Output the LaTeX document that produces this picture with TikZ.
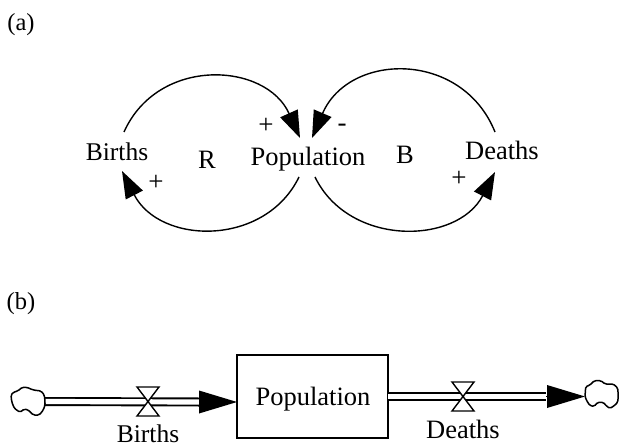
\documentclass[tikz,border=0pt]{standalone}
\usepackage{fontspec}
\setmainfont{Liberation Serif}
\usetikzlibrary{arrows.meta}
\tikzset{
  lab/.style={inner sep=0pt,anchor=base,font=\fontsize{26.5}{28}\selectfont},
  small/.style={inner sep=0pt,anchor=base,font=\fontsize{24.5}{26}\selectfont},
  sign/.style={inner sep=0pt,font=\fontsize{27}{28}\selectfont},
  link/.style={line width=1.4pt,-{Triangle[length=27pt,width=19pt]}},
  flow/.style={double,double distance=5.2pt,line width=1.9pt},
  head/.style={line width=0pt,-{Triangle[length=38pt,width=23pt]}},
  valve/.style={line width=1.4pt,fill=white},
  cloud/.style={line width=1.5pt,fill=white,rounded corners=1.5pt},
  stock/.style={draw,line width=1.4pt,minimum width=151pt,minimum height=83pt,inner sep=0pt}
}
\begin{document}
\begin{tikzpicture}[x=1pt,y=-1pt]
\useasboundingbox (0,0) rectangle (619,444);
\node[small] (ta) at (21,31) {(a)};
\node[small] (tb) at (21,309) {(b)};
\node[small,font=\fontsize{25.5}{28}\selectfont] (births) at (117,160) {Births};
\node[lab] (pop) at (308,165) {Population};
\node[lab] (deaths) at (502,159) {Deaths};
\node[lab] (r) at (207,168) {R};
\node[lab] (b) at (405,163) {B};
\node[sign] (p1) at (266,126) {+};
\node[sign] (p2) at (156,183) {+};
\node[sign] (p3) at (459,179) {+};
\node[sign] (m1) at (342,128) {-};
\coordinate (bt) at (124,132);
\coordinate (bb) at (122,171);
\coordinate (ptl) at (300,138);
\coordinate (ptr) at (312,138);
\coordinate (pbl) at (299,177);
\coordinate (pbr) at (315,177);
\coordinate (dt) at (495,132);
\coordinate (db) at (495,172);
\draw[link] (bt) .. controls (158,56) and (266,62) .. (ptl);
\draw[link] (pbl) .. controls (265,247) and (160,245) .. (bb);
\draw[link] (dt) .. controls (462,50) and (349,52) .. (ptr);
\draw[link] (pbr) .. controls (349,247) and (457,245) .. (db);
% lower diagram
\node[stock] (box) at (312.5,396.5) {};
\node[lab] (boxt) at (313,405) {Population};
\coordinate (c1) at (45,401.5);
\coordinate (c2) at (585,396.5);
\coordinate (h1) at (199,402);
\coordinate (t1) at (237,402);
\coordinate (h2) at (546,396.5);
\coordinate (s2) at (388,396.5);
\draw[flow] (c1) -- (h1);
\draw[head] (h1) -- (t1);
\draw[flow] (s2) -- (h2);
\draw[head] (h2) -- (c2);
\coordinate (v1) at (148,401.5);
\coordinate (v2) at (463,396.5);
\draw[valve] (v1) -- ++(-11,-14.5) -- ++(22,0) -- ++(-22,29) -- ++(22,0) -- cycle;
\draw[valve] (v2) -- ++(-11,-14.5) -- ++(22,0) -- ++(-22,29) -- ++(22,0) -- cycle;
\draw[cloud] (c1) -- (44.3,395) -- (41,391) -- (33.3,390) -- (26.7,387.3) -- (22.3,387.3) -- (17.7,391) -- (13.3,392.3) -- (11,395) -- (11.7,401.7) -- (14.3,408.3) -- (20,412.3) -- (24.3,409) -- (28.3,410) -- (33.3,415) -- (39.3,415) -- (43.3,410) -- (45,405) -- cycle;
\draw[cloud] (c2) -- (585.7,386.7) -- (590,385) -- (594.3,380.7) -- (601,380.7) -- (605,384) -- (613.3,384) -- (617.7,388) -- (618.3,395.7) -- (617.7,402.3) -- (614.3,405.7) -- (610,408.3) -- (606.7,406.3) -- (603.3,402.3) -- (597.7,402.3) -- (594.3,406.3) -- (590,405.7) -- (586.7,400.7) -- cycle;
\node[small,font=\fontsize{25.5}{28}\selectfont] (bl) at (148,442.5) {Births};
\node[lab] (dl) at (463,438) {Deaths};
\end{tikzpicture}
\end{document}
